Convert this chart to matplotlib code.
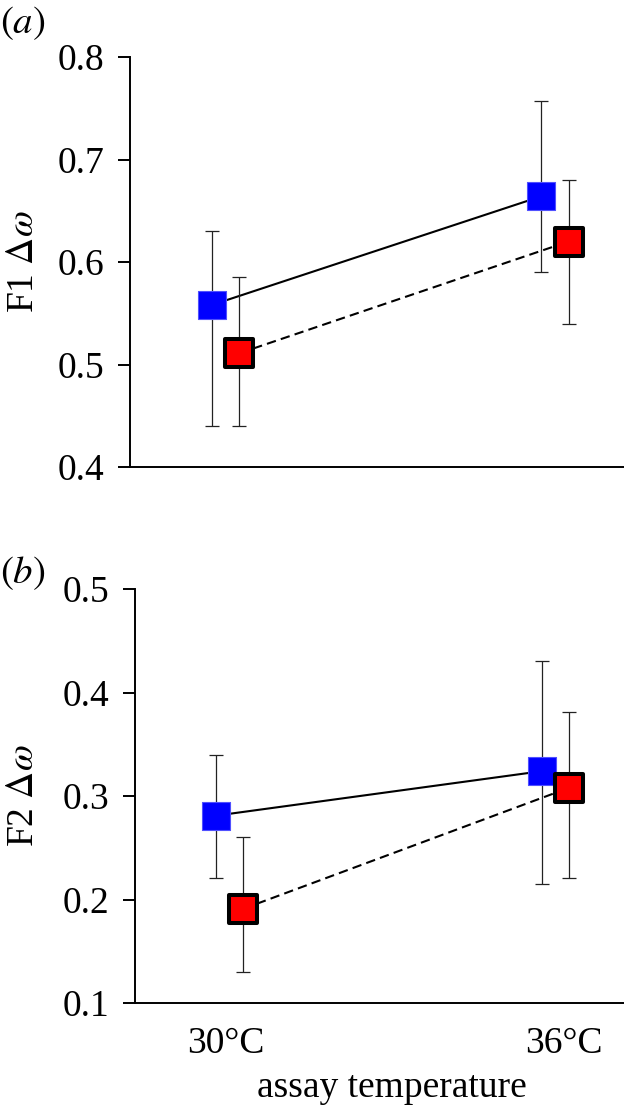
import matplotlib.pyplot as plt
from matplotlib.markers import MarkerStyle
import numpy as np

plt.rcParams["font.family"] = ["Liberation Serif", "DejaVu Serif"]
plt.rcParams["mathtext.fontset"] = "stix"

temperatures = ["30°C", "36°C"]

# F1 delta omega: means and error bar ends (low, high)
f1_blue = [0.558, 0.664]
f1_blue_low = [0.440, 0.590]
f1_blue_high = [0.630, 0.757]
f1_red = [0.511, 0.620]
f1_red_low = [0.440, 0.540]
f1_red_high = [0.585, 0.680]

# F2 delta omega
f2_blue = [0.281, 0.324]
f2_blue_low = [0.221, 0.215]
f2_blue_high = [0.340, 0.430]
f2_red = [0.191, 0.308]
f2_red_low = [0.130, 0.221]
f2_red_high = [0.260, 0.381]

DPI = 100
W, H = 624, 1105
OFFSET = 0.042
FS = 27


def draw_series(ax, x, vals, low, high, face, edge, mew, ls):
    vals = np.asarray(vals)
    yerr = [vals - np.asarray(low), np.asarray(high) - vals]
    ax.errorbar(x, vals, yerr=yerr, fmt="none", ecolor="#222222", elinewidth=0.9,
                capsize=5, capthick=0.9, zorder=2)
    ax.plot(x, vals, color="black", lw=1.5, ls=ls, dashes=(4.5, 2.5) if ls == "--" else (None, None),
            zorder=2)
    ax.plot(x, vals, ls="none", marker=MarkerStyle("s", joinstyle="round"), ms=20,
            mfc=face, mec=edge, mew=mew, zorder=3)


def style_axes(ax, ylim, yticks):
    ax.set_xlim(-0.29, 1.21)
    ax.set_ylim(*ylim)
    ax.set_yticks(yticks)
    ax.set_yticklabels([f"{t:.1f}" for t in yticks])
    for side in ("top", "right"):
        ax.spines[side].set_visible(False)
    for side in ("left", "bottom"):
        ax.spines[side].set_linewidth(1.4)
    ax.tick_params(axis="y", length=8.6, width=1.4, pad=10, labelsize=FS)
    ax.tick_params(axis="x", length=0, pad=17, labelsize=FS)


fig = plt.figure(figsize=(W / DPI, H / DPI), dpi=DPI)
ax1 = fig.add_axes([130 / W, 1 - 467 / H, 494 / W, 410 / H])
ax2 = fig.add_axes([135 / W, 1 - 1003 / H, 489 / W, 414 / H])

x = np.arange(len(temperatures))

for ax, blue, bl, bh, red, rl, rh in [
    (ax1, f1_blue, f1_blue_low, f1_blue_high, f1_red, f1_red_low, f1_red_high),
    (ax2, f2_blue, f2_blue_low, f2_blue_high, f2_red, f2_red_low, f2_red_high),
]:
    draw_series(ax, x - OFFSET, blue, bl, bh, "#0000ff", "#5050ff", 0.8, "-")
    draw_series(ax, x + OFFSET, red, rl, rh, "#ff0000", "black", 2.9, "--")

style_axes(ax1, (0.4, 0.8), [0.4, 0.5, 0.6, 0.7, 0.8])
ax1.set_xticks([])
ax1.set_ylabel(r"F1 $\Delta\omega$", fontsize=FS)
ax1.yaxis.set_label_coords(-0.18, 0.5)

style_axes(ax2, (0.1, 0.5), [0.1, 0.2, 0.3, 0.4, 0.5])
ax2.set_xticks([-0.01, 1.025])
ax2.set_xticklabels(temperatures)
ax2.set_ylabel(r"F2 $\Delta\omega$", fontsize=FS)
ax2.yaxis.set_label_coords(-0.192, 0.5)
ax2.set_xlabel("assay temperature", fontsize=FS)
ax2.xaxis.set_label_coords(0.5256, -0.162)

fig.text(0.0, 1 - 23 / H, r"$(a)$", fontsize=FS + 1, va="center", ha="left")
fig.text(0.0, 1 - 573 / H, r"$(b)$", fontsize=FS + 1, va="center", ha="left")

fig.savefig("out.png", dpi=DPI)
plt.close(fig)
